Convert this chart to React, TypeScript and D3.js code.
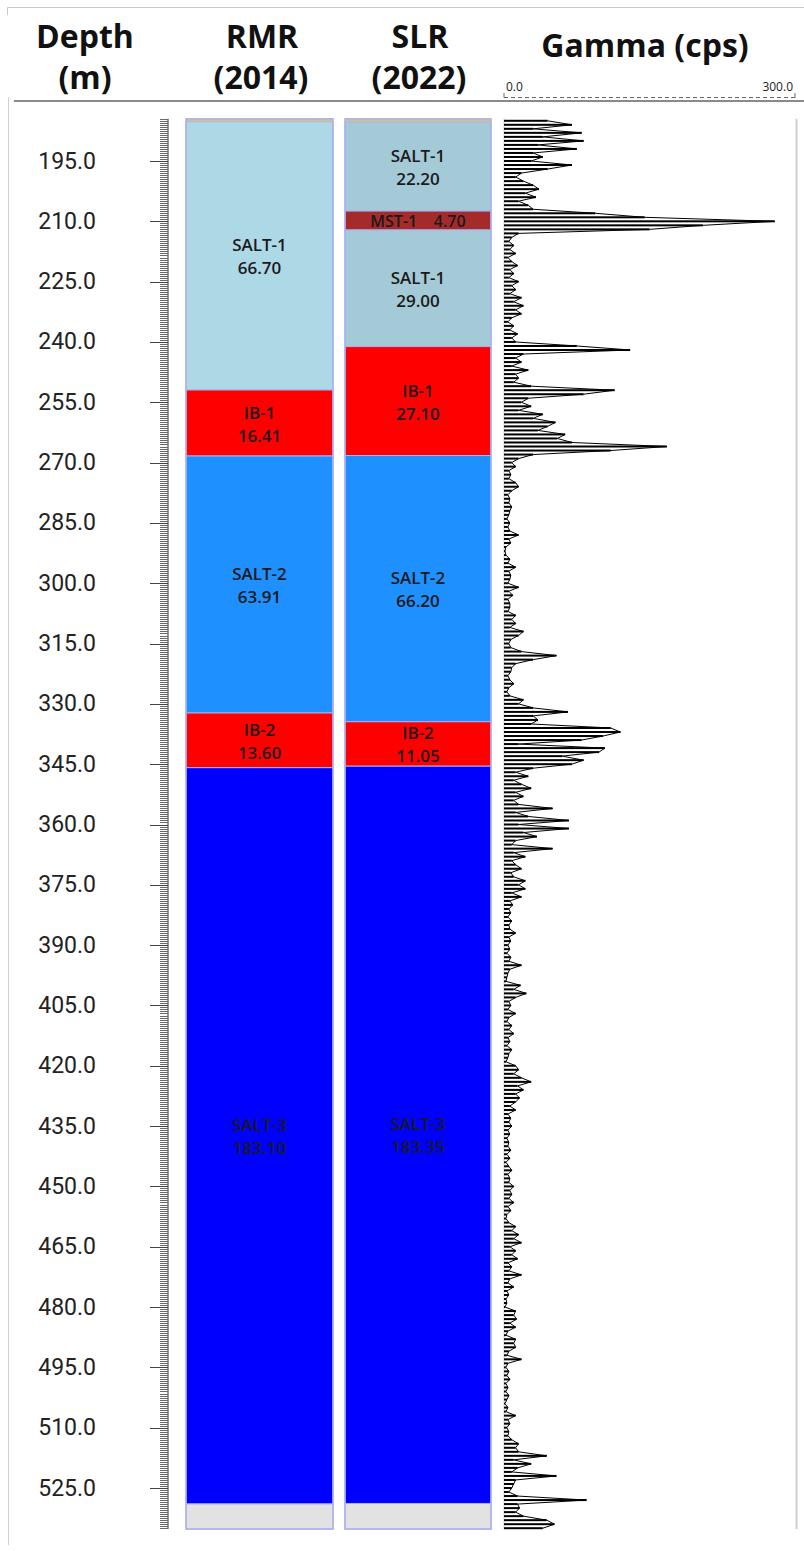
import React from "react";
import * as d3 from "d3";

// ---------- DATA ----------
const depthTicks = [195, 210, 225, 240, 255, 270, 285, 300, 315, 330, 345, 360, 375, 390, 405, 420, 435, 450, 465, 480, 495, 510, 525];

const capTop = 184.5;
const logTop = 185.25;
const logBottom = 535.2;

const rmrNames = ["SALT-1", "IB-1", "SALT-2", "IB-2", "SALT-3"];
const rmrThickness = [66.7, 16.41, 63.91, 13.6, 183.1];

const slrNames = ["SALT-1", "MST-1", "SALT-1", "IB-1", "SALT-2", "IB-2", "SALT-3"];
const slrThickness = [22.2, 4.7, 29.0, 27.1, 66.2, 11.05, 183.35];

const gammaScaleTicks = [0, 300];
const gammaStartDepth = 185; // metres, 1 m sampling
const gammaValues = [
  // 185-194
  45, 70, 30, 80, 40, 82, 35, 75, 30, 40,
  // 195-204
  28, 70, 45, 18, 12, 20, 30, 36, 22, 33,
  // 205-214
  15, 25, 30, 94, 145, 279, 205, 150, 15, 8,
  // 215-224
  5, 10, 6, 12, 4, 8, 14, 6, 10, 5,
  // 225-234
  15, 8, 12, 6, 18, 10, 20, 12, 18, 8,
  // 235-244
  4, 10, 6, 14, 8, 12, 75, 130, 20, 12,
  // 245-254
  18, 8, 25, 12, 15, 10, 28, 114, 82, 25,
  // 255-264
  18, 28, 15, 40, 30, 53, 45, 35, 63, 55,
  // 265-274
  70, 168, 110, 30, 15, 8, 12, 5, 7, 5,
  // 275-284
  12, 15, 8, 4, 6, 5, 8, 6, 5, 3,
  // 285-294
  6, 4, 6, 15, 5, 7, 2, 1, 2, 6,
  // 295-304
  4, 12, 5, 7, 6, 4, 15, 5, 9, 4,
  // 305-314
  6, 6, 4, 12, 8, 12, 6, 20, 15, 7,
  // 315-324
  5, 7, 18, 54, 30, 12, 8, 7, 4, 6,
  // 325-334
  10, 5, 3, 6, 20, 15, 30, 66, 30, 35,
  // 335-344
  28, 110, 120, 102, 80, 15, 104, 98, 60, 82,
  // 345-354
  70, 30, 12, 25, 10, 18, 28, 12, 20, 10,
  // 355-364
  15, 50, 12, 25, 67, 15, 67, 20, 34, 12,
  // 365-374
  8, 50, 10, 22, 8, 12, 18, 7, 10, 22,
  // 375-384
  15, 22, 8, 18, 6, 9, 5, 7, 4, 8,
  // 385-394
  5, 6, 12, 5, 7, 4, 6, 3, 7, 5,
  // 395-404
  18, 6, 4, 3, 2, 17, 10, 23, 12, 5,
  // 405-414
  7, 4, 12, 5, 3, 8, 5, 10, 4, 6,
  // 415-424
  3, 8, 5, 4, 2, 12, 15, 10, 18, 28,
  // 425-434
  14, 20, 12, 16, 12, 6, 12, 4, 7, 5,
  // 435-444
  8, 4, 6, 3, 5, 4, 7, 3, 6, 2,
  // 445-454
  5, 8, 4, 6, 5, 10, 6, 8, 5, 10,
  // 455-464
  4, 7, 3, 2, 5, 12, 8, 15, 10, 18,
  // 465-474
  6, 12, 8, 14, 4, 8, 5, 18, 6, 4,
  // 475-484
  10, 3, 5, 2, 3, 1, 12, 10, 13, 6,
  // 485-494
  12, 4, 2, 12, 10, 12, 5, 3, 18, 4,
  // 495-504
  2, 5, 3, 6, 2, 4, 2, 5, 3, 1,
  // 505-514
  4, 2, 12, 4, 6, 3, 5, 4, 8, 15,
  // 515-524
  12, 15, 44, 10, 28, 14, 8, 54, 12, 10,
  // 525-535
  8, 5, 14, 85, 14, 16, 12, 20, 44, 52, 40,
];

// ---------- STYLES ----------
const rmrColors = ["#add8e6", "#ff0000", "#1e90ff", "#ff0000", "#0000ff"];
const slrColors = ["#a5cad7", "#a52a2a", "#a5cad7", "#ff0000", "#1e90ff", "#ff0000", "#0000ff"];
const capColor = "#d9c27a";
const bottomColor = "#e2e2e2";
const frameColor = "#aab0f2";

const W = 804;
const H = 1551;

const y = d3.scaleLinear().domain([195, 525]).range([161, 1488]);
const gx = d3.scaleLinear().domain([0, 300]).range([504, 795]);

const textFont = "'Open Sans', 'DejaVu Sans', sans-serif";

function buildLayers(names: string[], thick: number[], colors: string[]) {
  let top = logTop;
  return names.map((n, i) => {
    const t = top;
    top += thick[i];
    return { name: n, thick: thick[i], top: t, bottom: top, color: colors[i] };
  });
}

function Column({ x0, x1, names, thick, colors }: { x0: number; x1: number; names: string[]; thick: number[]; colors: string[] }) {
  const layers = buildLayers(names, thick, colors);
  const last = layers[layers.length - 1].bottom;
  const cx = (x0 + x1) / 2;
  return (
    <g>
      <rect x={x0} y={y(capTop)} width={x1 - x0} height={y(logTop) - y(capTop)} fill={capColor} />
      {layers.map((l, i) => {
        const yt = y(l.top);
        const yb = y(l.bottom);
        const yc = (yt + yb) / 2;
        const single = l.name.startsWith("MST");
        return (
          <g key={i}>
            <rect x={x0} y={yt} width={x1 - x0} height={yb - yt} fill={l.color} stroke={frameColor} strokeWidth={1} />
            {single ? (
              <text x={cx} y={yc} textAnchor="middle" dominantBaseline="central" fontSize={16} fontWeight={600} fontFamily={textFont} fill="#1a1a1a" xmlSpace="preserve">
                {`${l.name}    ${l.thick.toFixed(2)}`}
              </text>
            ) : (
              <g fontSize={17} fontWeight={600} fontFamily={textFont} fill="#1a1a1a" textAnchor="middle">
                <text x={cx} y={yc - 11} dominantBaseline="central">{l.name}</text>
                <text x={cx} y={yc + 12} dominantBaseline="central">{l.thick.toFixed(2)}</text>
              </g>
            )}
          </g>
        );
      })}
      <rect x={x0} y={y(last)} width={x1 - x0} height={y(logBottom) - y(last)} fill={bottomColor} stroke={frameColor} strokeWidth={1} />
      <rect x={x0} y={y(capTop)} width={x1 - x0} height={y(logBottom) - y(capTop)} fill="none" stroke={frameColor} strokeWidth={1.5} />
    </g>
  );
}

export default function App() {
  const minor = d3.range(Math.ceil(capTop * 2) / 2, logBottom + 0.01, 0.5);
  const line = d3
    .line<number>()
    .x((v) => gx(v))
    .y((_, i) => y(gammaStartDepth + i));
  const step = y(gammaStartDepth + 1) - y(gammaStartDepth);

  const rulerX = 168;

  return (
    <svg width={W} height={H} style={{ position: "absolute", left: 0, top: 0, background: "#fff" }} xmlns="http://www.w3.org/2000/svg">
      <rect x={0} y={0} width={W} height={H} fill="#fff" />
      {/* frame lines */}
      <line x1={7.5} x2={W} y1={7.5} y2={7.5} stroke="#c8c8c8" strokeWidth={1} />
      <line x1={7.5} x2={7.5} y1={7.5} y2={15} stroke="#c8c8c8" strokeWidth={1} />
      <line x1={8.5} x2={8.5} y1={97} y2={1545} stroke="#d0d0d0" strokeWidth={1} />
      <line x1={14} x2={W} y1={101} y2={101} stroke="#8a8a8a" strokeWidth={2.2} />

      {/* header */}
      <g fontFamily={textFont} fontWeight={700} fontSize={32} fill="#111" textAnchor="middle">
        <text x={85} y={48}>Depth</text>
        <text x={85} y={89}>(m)</text>
        <text x={262} y={48}>RMR</text>
        <text x={261} y={89}>(2014)</text>
        <text x={420} y={48}>SLR</text>
        <text x={419} y={89}>(2022)</text>
        <text x={645} y={57}>Gamma (cps)</text>
      </g>
      {/* gamma scale */}
      <g fontFamily={textFont} fontSize={12} fill="#222">
        {gammaScaleTicks.map((t, i) => (
          <text key={t} x={i === 0 ? gx(t) + 2 : gx(t) - 2} y={91} textAnchor={i === 0 ? "start" : "end"}>
            {t.toFixed(1)}
          </text>
        ))}
      </g>
      <line x1={gx(0)} x2={gx(300)} y1={97.5} y2={97.5} stroke="#666" strokeWidth={1} strokeDasharray="4,3" />
      {gammaScaleTicks.map((t) => (
        <line key={t} x1={gx(t)} x2={gx(t)} y1={93} y2={97.5} stroke="#666" strokeWidth={1} />
      ))}

      {/* depth labels */}
      <g fontFamily="Roboto, 'Open Sans', sans-serif" fontSize={23} fill="#222" textAnchor="end">
        {depthTicks.map((d) => (
          <text key={d} x={96} y={y(d)} dominantBaseline="central">
            {d.toFixed(1)}
          </text>
        ))}
      </g>
      {/* ruler */}
      <line x1={rulerX} x2={rulerX} y1={y(capTop)} y2={y(logBottom)} stroke="#555" strokeWidth={1.2} />
      {minor.map((d) => {
        const major = Math.abs(d % 15) < 1e-6;
        return (
          <line
            key={d}
            x1={major ? rulerX - 18 : rulerX - 8}
            x2={rulerX}
            y1={Math.round(y(d)) + 0.5}
            y2={Math.round(y(d)) + 0.5}
            stroke={major ? "#444" : "#6a6a6a"}
            strokeWidth={1}
          />
        );
      })}

      {/* lithology columns */}
      <Column x0={186} x1={333} names={rmrNames} thick={rmrThickness} colors={rmrColors} />
      <Column x0={345} x1={491} names={slrNames} thick={slrThickness} colors={slrColors} />

      {/* gamma track */}
      <line x1={gx(0)} x2={gx(0)} y1={y(capTop)} y2={y(logBottom)} stroke="#d0d0d0" strokeWidth={1} />
      <line x1={796.5} x2={796.5} y1={y(capTop)} y2={y(logBottom)} stroke="#cfcfcf" strokeWidth={2} />
      <g fill="#000">
        {gammaValues.map((v, i) => (
          <rect key={i} x={gx(0)} y={y(gammaStartDepth + i) - step * 0.25} width={gx(v) - gx(0)} height={step * 0.5} />
        ))}
      </g>
      <path d={line(gammaValues) || ""} fill="none" stroke="#000" strokeWidth={1} />
    </svg>
  );
}
